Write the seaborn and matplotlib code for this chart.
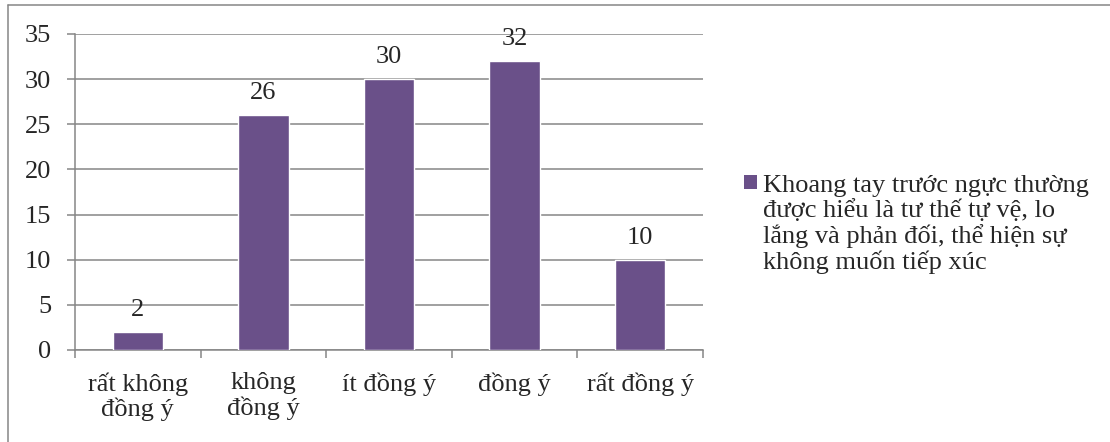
import matplotlib
matplotlib.use("Agg")
import matplotlib.pyplot as plt
from matplotlib.patches import Rectangle
from matplotlib.lines import Line2D
import seaborn as sns
import pandas as pd

categories = ["rất không\nđồng ý", "không\nđồng ý", "ít đồng ý", "đồng ý", "rất đồng ý"]
values = [2, 26, 30, 32, 10]
series_name = ("Khoang tay trước ngực thường\nđược hiểu là tư thế tự vệ, lo\n"
               "lắng và phản đối, thể hiện sự\nkhông muốn tiếp xúc")
yticks = [0, 5, 10, 15, 20, 25, 30, 35]

bar_color = "#6A5089"
grid_color = "#868686"
fs = 19

sns.set_style("white")
plt.rcParams["font.family"] = ["Liberation Serif", "DejaVu Serif"]
plt.rcParams["font.size"] = fs

df = pd.DataFrame({"cat": categories, "val": values})

fig = plt.figure(figsize=(11.10, 4.42), dpi=100)
ax = fig.add_axes([75 / 1110, 1 - 350 / 442, (703 - 75) / 1110, (350 - 34) / 442])

sns.barplot(data=df, x="cat", y="val", color=bar_color, width=0.4,
            saturation=1, ax=ax, zorder=3)

ax.set_ylim(0, 35)
ax.set_xlim(-0.5, len(categories) - 0.5)
ax.set_yticks(yticks)
ax.yaxis.grid(True, color=grid_color, linewidth=1.1, zorder=0)
ax.set_axisbelow(True)
ax.set_xlabel("")
ax.set_ylabel("")

for side in ["top", "right"]:
    ax.spines[side].set_visible(False)
for side in ["left", "bottom"]:
    ax.spines[side].set_color(grid_color)
    ax.spines[side].set_linewidth(1.1)

ax.tick_params(axis="y", left=True, length=6, color=grid_color, width=1.1,
               labelsize=fs, pad=11)
ax.tick_params(axis="x", which="major", bottom=True, length=0, labelsize=fs, pad=16)
ax.set_xticks([i - 0.5 for i in range(len(categories) + 1)], minor=True)
ax.tick_params(axis="x", which="minor", bottom=True, length=6, color=grid_color, width=1.1)
for lab in ax.get_xticklabels():
    lab.set_linespacing(1.12)

ax.bar_label(ax.containers[0], labels=[str(v) for v in values], padding=8, fontsize=fs)

# legend drawn by hand so the marker sits next to the first line
fig.patches.append(Rectangle((744 / 1110, 1 - 189 / 442), 13 / 1110, 14 / 442,
                             transform=fig.transFigure, facecolor=bar_color,
                             edgecolor="none", figure=fig))
fig.text(763 / 1110, 1 - 269 / 442, series_name, fontsize=fs, va="baseline", ha="left",
         linespacing=1.12)

# chart area border (left and top visible)
fig.lines.append(Line2D([8 / 1110, 8 / 1110], [0, 1 - 5 / 442], transform=fig.transFigure,
                        color=grid_color, linewidth=1.1))
fig.lines.append(Line2D([8 / 1110, 1], [1 - 5 / 442, 1 - 5 / 442], transform=fig.transFigure,
                        color=grid_color, linewidth=1.1))

fig.savefig("out.png", dpi=100)
